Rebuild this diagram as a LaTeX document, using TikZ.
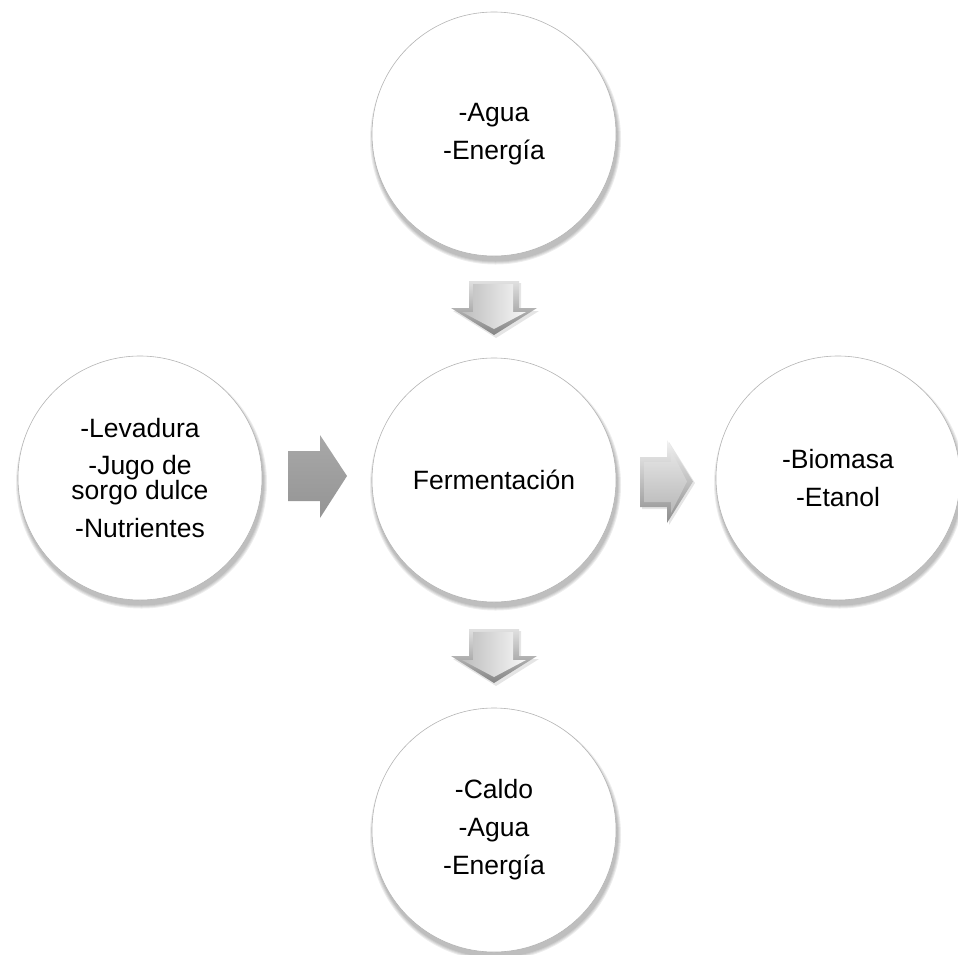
\documentclass[tikz,border=0pt]{standalone}
\usepackage{fontspec}
\setmainfont{Liberation Sans}
\usetikzlibrary{calc,backgrounds}
\definecolor{edgegray}{HTML}{B4B4B4}
\newcommand\downblock[1]{%
  \begin{scope}[shift={(#1)}]
    \fill[black,opacity=0.10] (-23,-24) -- (27,-24) -- (27,4) -- (45,4) -- (2,31) -- (-41,4) -- (-23,4) -- cycle;
    \shade[top color=white!88!black, bottom color=white!52!black] (-25,-26) -- (25,-26) -- (25,1) -- (43,1) -- (0,28) -- (-43,1) -- (-25,1) -- cycle;
    \shade[left color=white!74!black, right color=white!97!black] (-21,-23) -- (19,-23) -- (19,5) -- (32,5) -- (0,22) -- (-32,5) -- (-21,5) -- cycle;
  \end{scope}}
\newcommand\rightblock[1]{%
  \begin{scope}[shift={(#1)}]
    \fill[black,opacity=0.10] (-24,-20) -- (3,-20) -- (3,-37) -- (29,4) -- (3,46) -- (3,30) -- (-24,30) -- cycle;
    \shade[top color=white!95!black, bottom color=white!55!black] (-26,-22) -- (1,-22) -- (1,-39) -- (27,2.5) -- (1,44) -- (1,28) -- (-26,28) -- cycle;
    \shade[top color=white!90!black, bottom color=white!72!black] (-22,-17) -- (5,-17) -- (5,-29) -- (21,2.5) -- (5,34) -- (5,23) -- (-22,23) -- cycle;
  \end{scope}}
\begin{document}
\begin{tikzpicture}[x=1pt,y=-1pt,
  bubble/.style={circle, draw=edgegray, line width=0.6pt, fill=white,
    minimum size=244pt, inner sep=0pt, align=center,
    font=\fontsize{26.5}{25}\selectfont}]
\useasboundingbox (0,0) rectangle (958,954);
\node[bubble] (top) at (494,134) {-Agua\\[12.5pt]-Energía};
\node[bubble] (lft) at (140,478) {-Levadura\\[12.5pt]-Jugo de\\sorgo dulce\\[12.5pt]-Nutrientes};
\node[bubble] (mid) at (494,480) {Fermentación};
\node[bubble] (rgt) at (838,478) {-Biomasa\\[12.5pt]-Etanol};
\node[bubble] (bot) at (494,830) {-Caldo\\[12.5pt]-Agua\\[12.5pt]-Energía};
\begin{pgfonlayer}{background}
  \foreach \n in {top,lft,mid,rgt,bot}{
    \foreach \r in {125.5,124.5,123.5,122.5}{
      \fill[black,opacity=0.07] (\n.center) ++(1.5,5) circle (\r);
    }
  }
\end{pgfonlayer}
\coordinate (a1) at ($(top.south)!0.5!(mid.north)$);
\coordinate (a2) at ($(lft.east)!0.5!(mid.west)$);
\coordinate (a3) at ($(mid.east)!0.5!(rgt.west)$);
\coordinate (a4) at ($(mid.south)!0.5!(bot.north)$);
\downblock{a1}
\downblock{a4}
\rightblock{a3}
\begin{scope}[shift={(a2)}]
  \shade[top color=white!66!black, bottom color=white!58!black] (-29,-28) -- (3,-28) -- (3,-44) -- (30,-3) -- (3,39) -- (3,22) -- (-29,22) -- cycle;
\end{scope}
\end{tikzpicture}
\end{document}
